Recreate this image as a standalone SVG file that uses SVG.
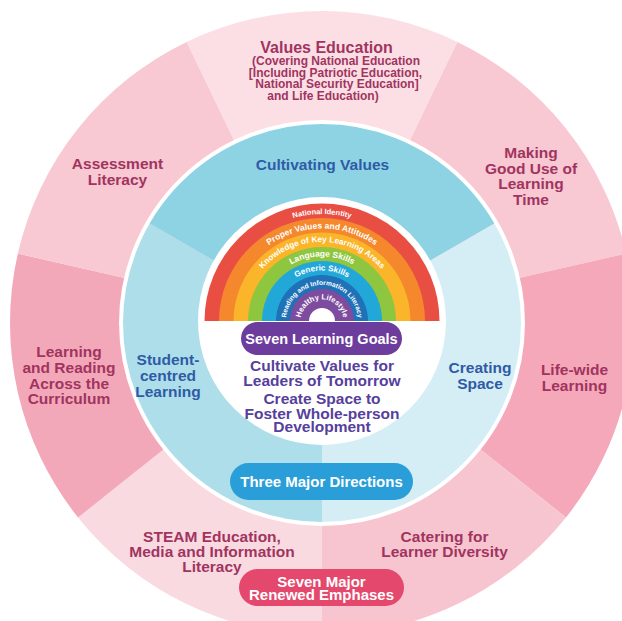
<svg xmlns="http://www.w3.org/2000/svg" width="622" height="621" viewBox="0 0 622 621">
  <style>
    text { font-family: "Liberation Sans", Arial, sans-serif; font-weight: bold; text-anchor: middle; }
    .outer { fill: #a1345f; font-size: 15.5px; }
    .ve-title { fill: #a1345f; font-size: 16px; }
    .ve-sub { fill: #a1345f; font-size: 12px; }
    .dir { fill: #2f5ba6; font-size: 15.5px; }
    .goal { fill: #56409c; font-size: 15.5px; }
    .pill-text { fill: #ffffff; font-size: 15px; }
    .band { fill: #ffffff; font-size: 8px; }
  </style>
  <defs>
    <!-- arcs for the curved rainbow captions, centred on (322,321) -->
    <path id="arc107" d="M215,321 A107,107 0 0 1 429,321"/>
    <path id="arc92" d="M229.5,321 A92.5,92.5 0 0 1 414.5,321"/>
    <path id="arc78" d="M243,321 A79,79 0 0 1 401,321"/>
    <path id="arc64" d="M257.5,321 A64.5,64.5 0 0 1 386.5,321"/>
    <path id="arc50" d="M271.5,321 A50.5,50.5 0 0 1 372.5,321"/>
    <path id="arc36" d="M286,321 A36,36 0 0 1 358,321"/>
    <path id="arc20" d="M300.5,321 A21.5,21.5 0 0 1 343.5,321"/>
  </defs>

  <!-- outer ring: seven renewed emphases -->
  <g id="emphases-ring">
    <path id="seg-values-education" d="M322,323 L186.63,41.9 A312,312 0 0 1 457.37,41.9 Z" fill="#fbdfe5"/>
    <path id="seg-learning-time" d="M322,323 L457.37,41.9 A312,312 0 0 1 626.18,253.57 Z" fill="#f8c8d3"/>
    <path id="seg-life-wide" d="M322,323 L626.18,253.57 A312,312 0 0 1 565.93,517.53 Z" fill="#f4a8ba"/>
    <path id="seg-diversity" d="M322,323 L565.93,517.53 A312,312 0 0 1 322,635 Z" fill="#f7c5d0"/>
    <path id="seg-steam" d="M322,323 L322,635 A312,312 0 0 1 78.07,517.53 Z" fill="#fadae1"/>
    <path id="seg-reading" d="M322,323 L78.07,517.53 A312,312 0 0 1 17.82,253.57 Z" fill="#f3a8ba"/>
    <path id="seg-assessment" d="M322,323 L17.82,253.57 A312,312 0 0 1 186.63,41.9 Z" fill="#f8c8d3"/>
  </g>

  <g id="node-values-education">
    <text class="ve-title" x="326.5" y="53">Values Education</text>
    <text class="ve-sub" x="336" y="65">(Covering National Education</text>
    <text class="ve-sub" x="335.5" y="76.5">[Including Patriotic Education,</text>
    <text class="ve-sub" x="337" y="88">National Security Education]</text>
    <text class="ve-sub" x="323" y="99.5">and Life Education)</text>
  </g>
  <g id="node-learning-time">
    <text class="outer" x="531" y="158">Making</text>
    <text class="outer" x="531" y="173.5">Good Use of</text>
    <text class="outer" x="531" y="189">Learning</text>
    <text class="outer" x="531" y="204.5">Time</text>
  </g>
  <g id="node-life-wide">
    <text class="outer" x="574.5" y="374.5">Life-wide</text>
    <text class="outer" x="574.5" y="390.5">Learning</text>
  </g>
  <g id="node-diversity">
    <text class="outer" x="444.5" y="542">Catering for</text>
    <text class="outer" x="444.5" y="557">Learner Diversity</text>
  </g>
  <g id="node-steam">
    <text class="outer" x="212" y="542">STEAM Education,</text>
    <text class="outer" x="212" y="557">Media and Information</text>
    <text class="outer" x="212" y="572">Literacy</text>
  </g>
  <g id="node-reading">
    <text class="outer" x="69" y="357">Learning</text>
    <text class="outer" x="69" y="373">and Reading</text>
    <text class="outer" x="69" y="389">Across the</text>
    <text class="outer" x="69" y="404">Curriculum</text>
  </g>
  <g id="node-assessment">
    <text class="outer" x="117.5" y="168.5">Assessment</text>
    <text class="outer" x="117.5" y="184.5">Literacy</text>
  </g>

  <!-- inner disc: three major directions -->
  <g id="directions-disc">
    <path id="sec-cultivating" d="M322,323 L148.8,223 A200,200 0 0 1 495.2,223 Z" fill="#8ed3e3"/>
    <path id="sec-creating" d="M322,323 L495.2,223 A200,200 0 0 1 322,523 Z" fill="#d5eef5"/>
    <path id="sec-student" d="M322,323 L322,523 A200,200 0 0 1 148.8,223 Z" fill="#aedeea"/>
    <circle cx="322" cy="323" r="201" fill="none" stroke="#ffffff" stroke-width="4"/>
  </g>
  <g id="node-cultivating-values">
    <text class="dir" x="322.5" y="170">Cultivating Values</text>
  </g>
  <g id="node-student-centred">
    <text class="dir" x="168" y="365">Student-</text>
    <text class="dir" x="168" y="381">centred</text>
    <text class="dir" x="168" y="396.5">Learning</text>
  </g>
  <g id="node-creating-space">
    <text class="dir" x="480" y="373">Creating</text>
    <text class="dir" x="480" y="388.5">Space</text>
  </g>

  <!-- centre: seven learning goals -->
  <circle cx="322" cy="321" r="124" fill="#ffffff"/>
  <g id="node-rainbow">
    <path d="M204.5,321 A117.5,117.5 0 0 1 439.5,321 Z" fill="#e94e43"/>
    <path d="M219,321 A103,103 0 0 1 425,321 Z" fill="#f5882c"/>
    <path d="M233.5,321 A88.5,88.5 0 0 1 410.5,321 Z" fill="#fbb52a"/>
    <path d="M248,321 A74,74 0 0 1 396,321 Z" fill="#8ec63f"/>
    <path d="M262,321 A60,60 0 0 1 382,321 Z" fill="#22a8d8"/>
    <path d="M276,321 A46,46 0 0 1 368,321 Z" fill="#1f71b8"/>
    <path d="M290,321 A32,32 0 0 1 354,321 Z" fill="#7d4c9f"/>
    <path d="M309,321 A13,13 0 0 1 335,321 Z" fill="#ffffff"/>
    <text class="band" style="font-size:7.5px"><textPath href="#arc107" startOffset="50%">National Identity</textPath></text>
    <text class="band" style="font-size:8.5px"><textPath href="#arc92" startOffset="50%">Proper Values and Attitudes</textPath></text>
    <text class="band" style="font-size:8.3px"><textPath href="#arc78" startOffset="50%">Knowledge of Key Learning Areas</textPath></text>
    <text class="band" style="font-size:8.5px"><textPath href="#arc64" startOffset="50%">Language Skills</textPath></text>
    <text class="band" style="font-size:8.2px"><textPath href="#arc50" startOffset="50%">Generic Skills</textPath></text>
    <text class="band" style="font-size:6.7px"><textPath href="#arc36" startOffset="50%">Reading and Information Literacy</textPath></text>
    <text class="band" style="font-size:7.6px"><textPath href="#arc20" startOffset="50%">Healthy Lifestyle</textPath></text>
  </g>
  <g id="node-learning-goals">
    <rect x="241" y="322" width="161" height="33" rx="16.5" fill="#6c3d9c"/>
    <text class="pill-text" x="321.5" y="344" style="font-size:14.5px">Seven Learning Goals</text>
  </g>
  <g id="node-aims">
    <text class="goal" x="322" y="371">Cultivate Values for</text>
    <text class="goal" x="322" y="385.5">Leaders of Tomorrow</text>
    <text class="goal" x="322" y="404">Create Space to</text>
    <text class="goal" x="322" y="418.5">Foster Whole-person</text>
    <text class="goal" x="322" y="432">Development</text>
  </g>
  <g id="node-three-directions">
    <rect x="230" y="463" width="183" height="37" rx="18.5" fill="#2a9ed8"/>
    <text class="pill-text" x="321.5" y="486.5">Three Major Directions</text>
  </g>
  <g id="node-seven-emphases">
    <rect x="239" y="569" width="165" height="37" rx="18.5" fill="#e4486c"/>
    <text class="pill-text" x="321.5" y="586.5">Seven Major</text>
    <text class="pill-text" x="321.5" y="599.5">Renewed Emphases</text>
  </g>
</svg>
